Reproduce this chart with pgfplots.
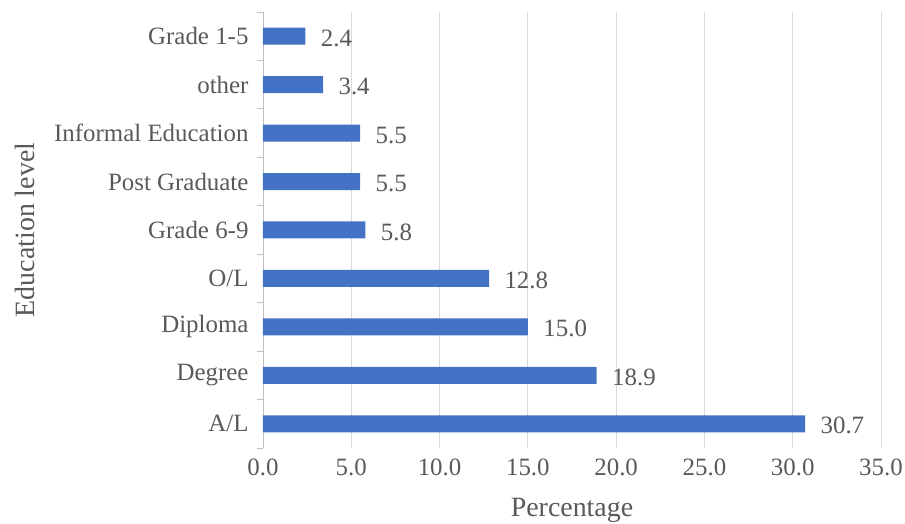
\documentclass[border=0pt]{standalone}
\usepackage{pgfplots}
\pgfplotsset{compat=1.18}
\usepackage{fontspec}
\setmainfont{Liberation Serif}
\definecolor{barblue}{HTML}{4472C4}
\definecolor{txtgray}{HTML}{595959}
\definecolor{gridgray}{HTML}{D9D9D9}
\definecolor{axgray}{HTML}{BFBFBF}
\begin{document}
\begin{tikzpicture}[x=1bp,y=1bp]
\begin{axis}[
  name=ax,
  scale only axis,
  width=618bp, height=436bp,
  xmin=0, xmax=35,
  ymin=-0.5, ymax=8.5,
  xbar, bar width=17bp,
  axis lines*=left,
  x axis line style={draw=none},
  y axis line style={draw=axgray, line width=0.8bp},
  xtick={0,5,...,35},
  xmajorgrids,
  major grid style={draw=gridgray, line width=0.8bp},
  ytick={0,...,8},
  yticklabels={A/L,Degree,Diploma,O/L,Grade 6-9,Post Graduate,Informal Education,other,Grade 1-5},
  minor ytick={-0.5,0.5,...,8.5},
  major tick length=0pt,
  minor tick length=6bp,
  tick align=outside,
  minor tick style={draw=axgray, line width=0.8bp},
  font=\fontsize{25}{28}\selectfont,
  tick label style={text=txtgray},
  xticklabel style={yshift=-7bp, /pgf/number format/fixed, /pgf/number format/fixed zerofill, /pgf/number format/precision=1, /pgf/number format/assume math mode=true},
  yticklabel style={xshift=-11bp},
  xlabel={Percentage},
  ylabel={Education level},
  label style={text=txtgray, font=\fontsize{28}{32}\selectfont},
  xlabel style={at={(axis description cs:0.5,-0.142)}, anchor=center},
  ylabel style={at={(axis description cs:-0.385,0.5)}, anchor=center, rotate=0},
  nodes near coords,
  nodes near coords style={text=txtgray, anchor=west, xshift=12bp, yshift=-2bp,
    /pgf/number format/fixed, /pgf/number format/fixed zerofill, /pgf/number format/precision=1, /pgf/number format/assume math mode=true},
  clip=false,
]
\addplot[fill=barblue, draw=none] coordinates {
(30.7,0) (18.9,1) (15.0,2) (12.8,3) (5.8,4) (5.5,5) (5.5,6) (3.4,7) (2.4,8)};
\end{axis}
\pgfresetboundingbox
\path ([xshift=-263bp,yshift=-76bp]ax.south west) rectangle ([xshift=24bp,yshift=12bp]ax.north east);
\end{tikzpicture}
\end{document}
